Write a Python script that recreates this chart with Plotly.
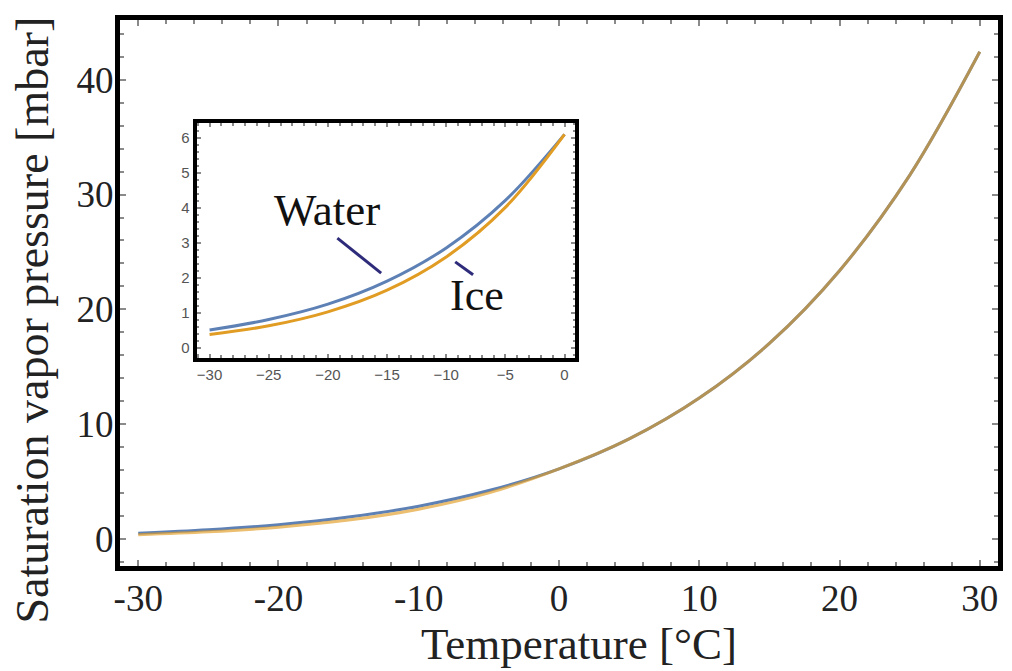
import plotly.graph_objects as go

# Saturation vapor pressure (mbar) over liquid water and over ice
temp_c = [-30, -25, -20, -15, -10, -5, 0, 5, 10, 15, 20, 25, 30]
p_water = [0.51, 0.81, 1.25, 1.91, 2.86, 4.22, 6.11, 8.72, 12.28, 17.04, 23.37, 31.67, 42.43]

temp_ice = [-30, -25, -20, -15, -10, -5, 0]
p_ice = [0.38, 0.63, 1.03, 1.65, 2.60, 4.02, 6.11]

# condensed phase: ice below freezing, liquid water above
p_condensed = p_ice + p_water[len(temp_ice):]

x_ticks_main = [-30, -20, -10, 0, 10, 20, 30]
x_ticktext_main = ["-30", "-20", "-10", "0", "10", "20", "30"]
y_ticks_main = [0, 10, 20, 30, 40]
x_ticks_inset = [-30, -25, -20, -15, -10, -5, 0]
y_ticks_inset = [0, 1, 2, 3, 4, 5, 6]

BLUE = "#5E81B5"
ORANGE = "#E19C24"
LABEL_LINE = "#2E2C7A"
SERIF = "Liberation Serif, Times New Roman, serif"
SANS = "Liberation Sans, Arial, sans-serif"

fig = go.Figure()

# main panel
fig.add_trace(go.Scatter(x=temp_c, y=p_water, mode="lines", line=dict(color=BLUE, width=3, shape="spline"),
                         name="Water", xaxis="x", yaxis="y", hoverinfo="skip"))
fig.add_trace(go.Scatter(x=temp_c, y=p_condensed, mode="lines", line=dict(color=ORANGE, width=3, shape="spline"),
                         opacity=0.65, name="Ice", xaxis="x", yaxis="y", hoverinfo="skip"))

# inset panel
fig.add_trace(go.Scatter(x=temp_ice, y=p_water[:len(temp_ice)], mode="lines",
                         line=dict(color=BLUE, width=3, shape="spline"), xaxis="x2", yaxis="y2", hoverinfo="skip"))
fig.add_trace(go.Scatter(x=temp_ice, y=p_ice, mode="lines",
                         line=dict(color=ORANGE, width=3, shape="spline"), xaxis="x2", yaxis="y2", hoverinfo="skip"))

frame = dict(showline=True, linecolor="black", mirror="ticks", showgrid=False, zeroline=False,
             ticks="inside", tickcolor="#8a8a8a")

fig.update_layout(
    width=1012, height=671,
    margin=dict(l=120, r=9, t=20, b=105),
    paper_bgcolor="white", plot_bgcolor="white",
    showlegend=False,
    xaxis=dict(frame, range=[-31.3, 31.3], linewidth=5, tickvals=x_ticks_main, ticktext=x_ticktext_main,
               ticklen=6, tickwidth=2, ticklabelstandoff=-4,
               minor=dict(dtick=2, ticks="inside", ticklen=4, tickcolor="#8a8a8a", tickwidth=2),
               tickfont=dict(family=SERIF, size=37, color="#222")),
    yaxis=dict(frame, range=[-2.35, 45.2], linewidth=5, tickvals=y_ticks_main,
               ticklen=6, tickwidth=2, ticklabelstandoff=-6,
               minor=dict(dtick=2, ticks="inside", ticklen=4, tickcolor="#8a8a8a", tickwidth=2),
               tickfont=dict(family=SERIF, size=37, color="#222")),
    xaxis2=dict(frame, domain=[0.0872, 0.5187], anchor="y2", range=[-31.1, 0.92], linewidth=4,
                tickvals=x_ticks_inset, ticklen=4, tickwidth=1.5,
                minor=dict(dtick=1, ticks="inside", ticklen=3, tickcolor="#8a8a8a", tickwidth=1.5),
                tickfont=dict(family=SANS, size=15, color="#555")),
    yaxis2=dict(frame, domain=[0.381, 0.811], anchor="x2", range=[-0.29, 6.43], linewidth=4,
                tickvals=y_ticks_inset, ticklen=4, tickwidth=1.5,
                minor=dict(dtick=0.2, ticks="inside", ticklen=2, tickcolor="#8a8a8a", tickwidth=1.5),
                tickfont=dict(family=SANS, size=15, color="#555")),
)

# axis titles
fig.add_annotation(text="Temperature [°C]", xref="paper", yref="paper", x=0.523, y=-0.143,
                   xanchor="center", yanchor="middle",
                   showarrow=False, font=dict(family=SERIF, size=45, color="#222"))
fig.add_annotation(text="Saturation vapor pressure [mbar]", xref="paper", yref="paper", x=-0.1, y=0.45,
                   xanchor="center", yanchor="middle",
                   textangle=-90, showarrow=False, font=dict(family=SERIF, size=46, color="#222"))

# curve labels in the inset
fig.add_annotation(text="Water", xref="x2", yref="y2", x=-20.1, y=3.94, showarrow=False,
                   xanchor="center", yanchor="middle",
                   font=dict(family=SERIF, size=45, color="#111"))
fig.add_annotation(text="Ice", xref="x2", yref="y2", x=-7.4, y=1.51, showarrow=False,
                   xanchor="center", yanchor="middle",
                   font=dict(family=SERIF, size=44, color="#111"))
fig.add_shape(type="line", xref="x2", yref="y2", x0=-19.2, y0=3.14, x1=-15.5, y1=2.14,
              line=dict(color=LABEL_LINE, width=3))
fig.add_shape(type="line", xref="x2", yref="y2", x0=-9.24, y0=2.46, x1=-7.73, y1=2.09,
              line=dict(color=LABEL_LINE, width=3))

fig.write_html("out.html")
